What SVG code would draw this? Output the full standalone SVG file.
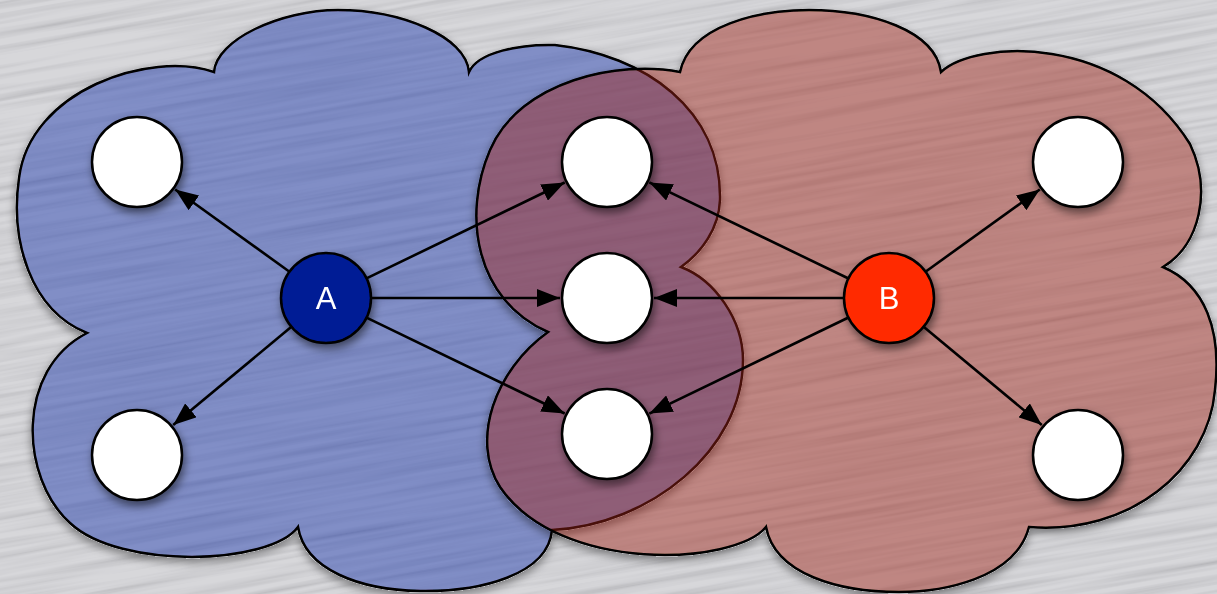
<svg xmlns="http://www.w3.org/2000/svg" width="1217" height="594" viewBox="0 0 1217 594">
  <defs>
    <!-- brushed-metal streak texture -->
    <filter id="brushed" x="0" y="0" width="100%" height="100%" filterUnits="objectBoundingBox">
      <feTurbulence type="fractalNoise" baseFrequency="0.004 0.16" numOctaves="3" seed="7" result="noise"/>
      <feColorMatrix in="noise" type="matrix" values="1.5 0 0 0 0.05  1.5 0 0 0 0.05  1.5 0 0 0 0.06  0 0 0 0 0.24"/>
    </filter>
    <!-- soft shadow kept outside the translucent cloud body -->
    <filter id="cloudShadow" x="-5%" y="-5%" width="110%" height="115%">
      <feComponentTransfer in="SourceAlpha" result="solid">
        <feFuncA type="linear" slope="20"/>
      </feComponentTransfer>
      <feGaussianBlur in="solid" stdDeviation="4" result="blur"/>
      <feOffset in="blur" dx="0" dy="4" result="off"/>
      <feComposite in="off" in2="solid" operator="out" result="outside"/>
      <feColorMatrix in="outside" type="matrix" values="0 0 0 0 0  0 0 0 0 0  0 0 0 0 0  0 0 0 0.4 0" result="sh"/>
      <feMerge>
        <feMergeNode in="sh"/>
        <feMergeNode in="SourceGraphic"/>
      </feMerge>
    </filter>
    <filter id="nodeShadow" x="-30%" y="-30%" width="170%" height="170%">
      <feDropShadow dx="2" dy="5" stdDeviation="4" flood-color="#000" flood-opacity="0.5"/>
    </filter>
    <marker id="arrow" markerUnits="userSpaceOnUse" markerWidth="24" markerHeight="18" refX="23" refY="9" orient="auto">
      <path d="M0,0 L23,9 L0,18 z" fill="#000"/>
    </marker>
    <style>
      .cloud { stroke: #000; stroke-width: 2.5; stroke-linejoin: miter; fill-opacity: 0.45; }
      .edge { stroke: #000; stroke-width: 2.6; fill: none; marker-end: url(#arrow); }
      .leaf { fill: #fff; stroke: #000; stroke-width: 2.5; }
      .hub { stroke: #000; stroke-width: 2.5; }
      .label { font-family: "Liberation Sans", Arial, sans-serif; font-size: 31px; fill: #fff; text-anchor: middle; }
      .shadowed { filter: url(#nodeShadow); }
    </style>
  </defs>

  <!-- background -->
  <rect x="0" y="0" width="1217" height="594" fill="#cacace"/>
  <rect x="-400" y="-500" width="2017" height="1594" fill="#000" filter="url(#brushed)" transform="rotate(-10 608 297)"/>

  <!-- clouds -->
  <g id="clouds">
    <path id="cloud-a" class="cloud" fill="#1b31ad" filter="url(#cloudShadow)"
      d="M214,72 C216,40 280,10 338,10 C400,10 466,36 469,72
         C478,52 520,44 555,45 C645,55 722,110 720,200 C719,228 702,252 681,267
         C715,280 743,320 743,360 C743,450 650,525 552,530
         C548,575 480,592 420,591 C360,590 305,570 298,527
         C270,565 120,570 70,523 C20,478 15,370 87,333
         C30,310 10,240 19,178 C30,90 150,50 214,72 Z"/>
    <path id="cloud-b" class="cloud" fill="#a22614" filter="url(#cloudShadow)"
      d="M680,72 C690,25 760,10 809,10 C870,10 935,30 941,72
         C975,40 1120,32 1190,144 C1212,190 1200,245 1163,267
         C1205,285 1222,330 1215,390 C1208,470 1130,535 1029,527
         C1015,580 940,592 899,592 C840,592 775,575 766,527
         C735,565 560,575 500,487 C470,440 495,370 548,332
         C475,300 462,215 490,150 C520,80 620,60 680,72 Z"/>
  </g>

  <!-- connectors -->
  <g id="connectors">
    <line class="edge" x1="289.5" y1="271.7" x2="175.2" y2="189.5"/>
    <line class="edge" x1="291.4" y1="326.8" x2="173.2" y2="425.0"/>
    <line class="edge" x1="366.5" y1="278.4" x2="564.7" y2="182.5"/>
    <line class="edge" x1="371" y1="298" x2="560" y2="298"/>
    <line class="edge" x1="366.5" y1="317.6" x2="564.7" y2="413.5"/>
    <line class="edge" x1="848.5" y1="278.5" x2="649.3" y2="182.4"/>
    <line class="edge" x1="844" y1="298" x2="654" y2="298"/>
    <line class="edge" x1="848.5" y1="317.5" x2="649.3" y2="413.6"/>
    <line class="edge" x1="925.5" y1="271.7" x2="1039.8" y2="189.5"/>
    <line class="edge" x1="923.6" y1="326.8" x2="1041.8" y2="425.0"/>
  </g>

  <!-- nodes -->
  <g id="node-a" class="shadowed">
    <circle class="hub" cx="326" cy="298" r="45" fill="#021b95"/>
    <text class="label" x="326" y="309">A</text>
  </g>
  <g id="node-b" class="shadowed">
    <circle class="hub" cx="889" cy="298" r="45" fill="#ff2a00"/>
    <text class="label" x="889" y="309">B</text>
  </g>
  <g id="node-a-top" class="shadowed"><circle class="leaf" cx="137" cy="162" r="45"/></g>
  <g id="node-a-bottom" class="shadowed"><circle class="leaf" cx="137" cy="455" r="45"/></g>
  <g id="node-shared-top" class="shadowed"><circle class="leaf" cx="607" cy="162" r="45"/></g>
  <g id="node-shared-middle" class="shadowed"><circle class="leaf" cx="607" cy="298" r="45"/></g>
  <g id="node-shared-bottom" class="shadowed"><circle class="leaf" cx="607" cy="434" r="45"/></g>
  <g id="node-b-top" class="shadowed"><circle class="leaf" cx="1078" cy="162" r="45"/></g>
  <g id="node-b-bottom" class="shadowed"><circle class="leaf" cx="1078" cy="455" r="45"/></g>
</svg>
